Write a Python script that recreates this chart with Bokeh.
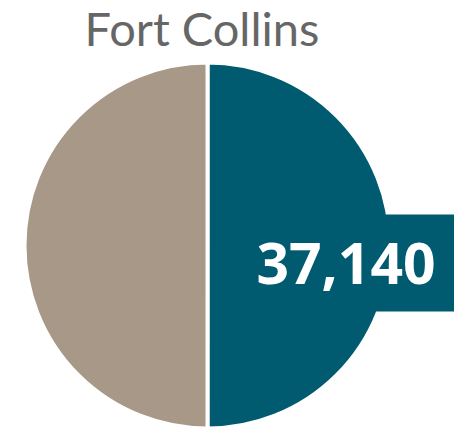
import numpy as np
from bokeh.plotting import figure
from bokeh.models import ColumnDataSource, Range1d
from bokeh.core.properties import value
from bokeh.embed import file_html
from bokeh.resources import INLINE

# ---- data ----
title_text = "Fort Collins"
categories = ["Fort Collins", "Rest"]
values = [37140, 37140]
colors = ["#005A70", "#A89888"]
label_text = "37,140"

# ---- layout ----
W, H = 454, 429
cx, cy, r = 207, 184, 183

vals = np.array(values, dtype=float)
fr = vals / vals.sum()
cum = np.concatenate([[0], np.cumsum(fr)[:-1]])
# start at top, go clockwise
start = np.pi / 2 - cum * 2 * np.pi
end = start - fr * 2 * np.pi

src = ColumnDataSource(dict(cat=categories, val=values, color=colors,
                            start=end, end=start))

p = figure(width=W, height=H, output_backend="svg", toolbar_location=None,
           x_range=Range1d(0, W), y_range=Range1d(0, H), min_border=0,
           outline_line_color=None, background_fill_color="white",
           border_fill_color="white")
p.axis.visible = False
p.grid.visible = False

p.wedge(x=cx, y=cy, radius=r, start_angle="start", end_angle="end",
        direction="anticlock", fill_color="color", line_color="white",
        line_width=4, source=src)

# label box
p.rect(x=351, y=166.5, width=206, height=97, fill_color=colors[0],
       line_color=None)
p.text(x=[345.5], y=[166], text=[label_text], text_font=value("Open Sans"),
       text_font_style="bold", text_font_size="57px", text_color="white",
       text_align="center", text_baseline="middle")

# title
p.text(x=[201.5], y=[402], text=[title_text], text_font=value("Lato"),
       text_font_size="47px", text_color="#666666", text_align="center",
       text_baseline="middle")

open("out.html", "w").write(file_html(p, INLINE))
